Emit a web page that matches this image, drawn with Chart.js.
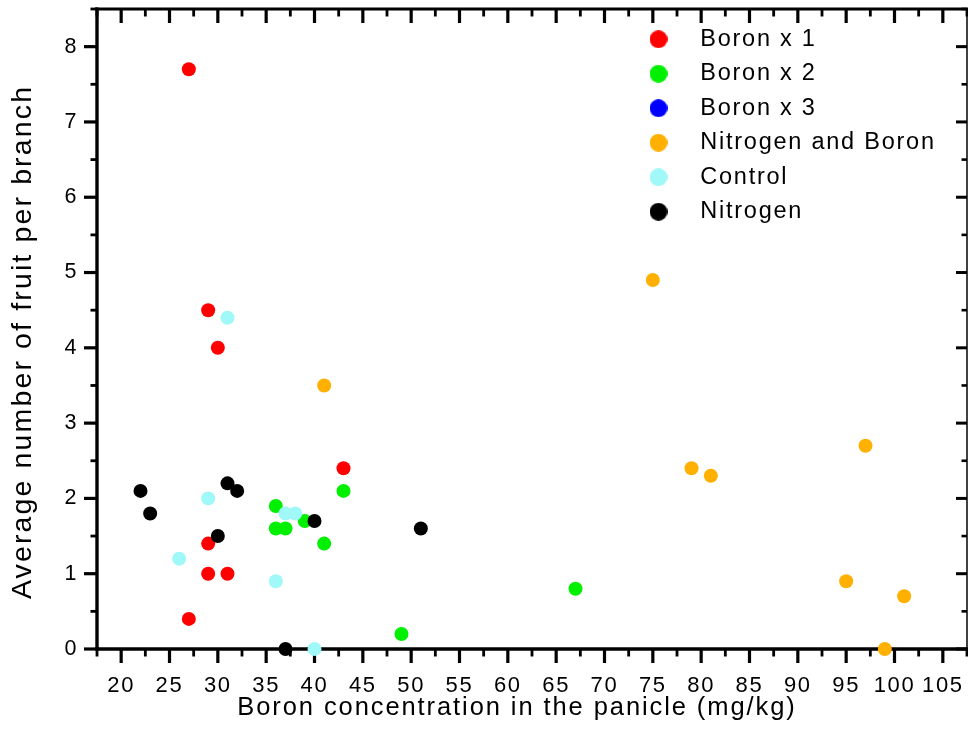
<!DOCTYPE html>
<html>
<head>
<meta charset="utf-8">
<style>
html,body{margin:0;padding:0;background:#fff;}
#wrap{width:968px;height:749px;position:relative;}
</style>
<script src="https://cdn.jsdelivr.net/npm/chart.js@4.4.1/dist/chart.umd.min.js"></script>
</head>
<body>
<div id="wrap"><canvas id="c" width="968" height="749"></canvas></div>
<script>
// ---- data ----
const seriesNames  = ['Boron x 1', 'Boron x 2', 'Boron x 3', 'Nitrogen and Boron', 'Control', 'Nitrogen'];
const seriesColors = ['#ff0000', '#00f000', '#0000ff', '#ffb000', '#a0f8f8', '#000000'];

const boron1X = [27, 29, 30, 43, 29, 29, 31, 27];
const boron1Y = [7.7, 4.5, 4.0, 2.4, 1.4, 1.0, 1.0, 0.4];

const boron2X = [36, 36, 37, 39, 43, 41, 49, 67];
const boron2Y = [1.9, 1.6, 1.6, 1.7, 2.1, 1.4, 0.2, 0.8];

const boron3X = [];
const boron3Y = [];

const nitroBoronX = [75, 41, 97, 79, 81, 95, 101, 99];
const nitroBoronY = [4.9, 3.5, 2.7, 2.4, 2.3, 0.9, 0.7, 0.0];

const controlX = [31, 29, 26, 37, 38, 36, 40];
const controlY = [4.4, 2.0, 1.2, 1.8, 1.8, 0.9, 0.0];

const nitrogenX = [22, 23, 31, 32, 30, 40, 51, 37];
const nitrogenY = [2.1, 1.8, 2.2, 2.1, 1.5, 1.7, 1.6, 0.0];

const xTickLabels = [20, 25, 30, 35, 40, 45, 50, 55, 60, 65, 70, 75, 80, 85, 90, 95, 100, 105];
const xMinorTicks = [17.5, 22.5, 27.5, 32.5, 37.5, 42.5, 47.5, 52.5, 57.5, 62.5, 67.5, 72.5, 77.5, 82.5, 87.5, 92.5, 97.5, 102.5, 107.5];
const yTickLabels = [0, 1, 2, 3, 4, 5, 6, 7, 8];
const yMinorTicks = [0.5, 1.5, 2.5, 3.5, 4.5, 5.5, 6.5, 7.5, 8.5];

const xTitle = 'Boron concentration in the panicle (mg/kg)';
const yTitle = 'Average number of fruit per branch';

// ---- helpers ----
const pairs = (xs, ys) => xs.map((v, i) => ({x: v, y: ys[i]}));
const seriesX = [boron1X, boron2X, boron3X, nitroBoronX, controlX, nitrogenX];
const seriesY = [boron1Y, boron2Y, boron3Y, nitroBoronY, controlY, nitrogenY];

const FONT = "'Liberation Sans', Arial, Helvetica, sans-serif";

const canvas = document.getElementById('c');
const ctx0 = canvas.getContext('2d');
// wider tracking, like the reference lettering
(function patch(ctx){
  const f = ctx.fillText, m = ctx.measureText;
  const apply = () => {
    const mm = /(\d+(?:\.\d+)?)px/.exec(ctx.font);
    const px = mm ? parseFloat(mm[1]) : 12;
    try { ctx.letterSpacing = (px * 0.075).toFixed(2) + 'px'; } catch (e) {}
  };
  ctx.fillText = function(){ apply(); return f.apply(this, arguments); };
  ctx.measureText = function(){ apply(); return m.apply(this, arguments); };
})(ctx0);

function dot(color) {
  const c = document.createElement('canvas');
  c.width = 18; c.height = 18;
  const g = c.getContext('2d');
  g.fillStyle = color;
  g.beginPath(); g.arc(9, 9, 9, 0, Math.PI * 2); g.fill();
  return c;
}

const datasets = seriesNames.map((name, i) => ({
  label: name,
  data: pairs(seriesX[i], seriesY[i]),
  backgroundColor: seriesColors[i],
  borderColor: seriesColors[i],
  pointBackgroundColor: seriesColors[i],
  pointBorderColor: seriesColors[i],
  pointBorderWidth: 0,
  pointRadius: 7,
  pointHoverRadius: 7,
  order: seriesNames.length - 1 - i,
  clip: false
}));

const noPad = s => { s.paddingLeft = 0; s.paddingRight = 0; s.paddingTop = 0; s.paddingBottom = 0; };

const framePlugin = {
  id: 'frame',
  beforeDatasetsDraw(chart) {
    const {ctx, chartArea: a, scales: {x, y}} = chart;
    ctx.save();
    ctx.strokeStyle = '#000';
    ctx.lineCap = 'butt';
    const seg = (x1, y1, x2, y2, w) => { ctx.lineWidth = w; ctx.beginPath(); ctx.moveTo(x1, y1); ctx.lineTo(x2, y2); ctx.stroke(); };
    xTickLabels.forEach(v => {
      const p = x.getPixelForValue(v);
      seg(p, a.bottom, p, a.bottom + 14, 3.2);
      seg(p, a.top, p, a.top + 14, 3.2);
    });
    xMinorTicks.forEach(v => {
      const p = x.getPixelForValue(v);
      seg(p, a.bottom, p, a.bottom + 7.5, 2.8);
      seg(p, a.top, p, a.top + 7.5, 2.8);
    });
    yTickLabels.forEach(v => {
      const p = y.getPixelForValue(v);
      seg(a.left, p, a.left - 13, p, 3.2);
      seg(a.right, p, a.right - 11, p, 3);
    });
    yMinorTicks.forEach(v => {
      const p = y.getPixelForValue(v);
      seg(a.left, p, a.left - 6.5, p, 2.8);
      seg(a.right, p, a.right - 5.5, p, 2.6);
    });
    // frame
    seg(a.left, a.top - 1.5, a.left, a.bottom + 1.7, 3.4);
    seg(a.left - 1.7, a.bottom, a.right + 1, a.bottom, 3.4);
    seg(a.left - 1.7, a.top, a.right + 1, a.top, 2.8);
    seg(a.right, a.top, a.right, a.bottom, 1.5);
    ctx.restore();
  },
  beforeDraw(chart) {
    const lg = chart.legend;
    if (lg) {
      lg.left = 617.5;
      lg.top = 16.5;
      lg.right = lg.left + lg.width;
      lg.bottom = lg.top + lg.height;
    }
    // axis titles in the reference sit a little off the plot centre
    const {x, y} = chart.scales;
    x._saved = [x.left, x.right]; x.left -= 15; x.right -= 15;
    y._saved = [y.top, y.bottom]; y.top += 13; y.bottom += 13;
  },
  afterDraw(chart) {
    const {x, y} = chart.scales;
    if (x._saved) { [x.left, x.right] = x._saved; }
    if (y._saved) { [y.top, y.bottom] = y._saved; }
  }
};

new Chart(ctx0, {
  type: 'scatter',
  data: { datasets },
  plugins: [framePlugin],
  options: {
    responsive: false,
    animation: false,
    devicePixelRatio: 1,
    layout: { autoPadding: false, padding: { top: 9, right: 1, left: 0, bottom: 0 } },
    plugins: {
      tooltip: { enabled: false },
      legend: {
        position: 'chartArea',
        align: 'start',
        reverse: true,
        labels: {
          usePointStyle: true,
          pointStyleWidth: 60,
          boxHeight: 13,
          padding: 11,
          color: '#000',
          font: { family: FONT, size: 23.5 },
          generateLabels(chart) {
            const items = Chart.defaults.plugins.legend.labels.generateLabels(chart);
            items.forEach(it => {
              const idx = seriesNames.indexOf(it.text);
              it.pointStyle = dot(seriesColors[idx]);
              it.fillStyle = seriesColors[idx];
              it.strokeStyle = seriesColors[idx];
              it.lineWidth = 0;
            });
            return items;
          }
        }
      }
    },
    scales: {
      x: {
        type: 'linear',
        position: 'bottom',
        min: 17.5,
        max: 107.5,
        afterBuildTicks: s => { s.ticks = xTickLabels.map(v => ({value: v})); },
        afterFit: s => { s.height = 100; noPad(s); },
        grid: { display: false, drawTicks: false },
        border: { display: false },
        ticks: { autoSkip: false, maxRotation: 0, padding: 23.5, color: '#000', font: { family: FONT, size: 22 } },
        title: { display: true, text: xTitle, color: '#000', font: { family: FONT, size: 25.5 }, padding: { top: 0, bottom: 26 } }
      },
      y: {
        type: 'linear',
        min: 0,
        max: 8.5,
        afterBuildTicks: s => { s.ticks = yTickLabels.map(v => ({value: v})); },
        afterFit: s => { s.width = 97; noPad(s); },
        grid: { display: false, drawTicks: false },
        border: { display: false },
        ticks: { autoSkip: false, padding: 19, color: '#000', font: { family: FONT, size: 21.5 } },
        title: { display: true, text: yTitle, color: '#000', font: { family: FONT, size: 28.5 }, padding: { top: 6, bottom: 0 } }
      }
    }
  }
});
</script>
</body>
</html>
